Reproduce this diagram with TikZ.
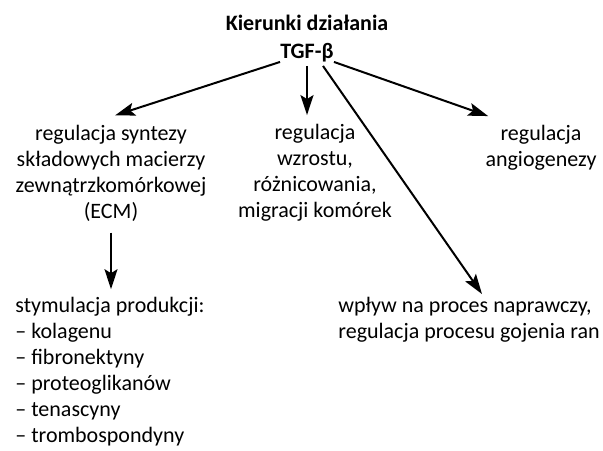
\documentclass[tikz,border=0pt]{standalone}
\usepackage{fontspec}
\setmainfont{Carlito}
\usetikzlibrary{arrows.meta, positioning, calc}

\begin{document}
\begin{tikzpicture}[x=0.5pt, y=-0.5pt,
  txt/.style={inner sep=0pt, font=\fontsize{11}{13}\selectfont},
  title/.style={inner sep=0pt, font=\fontsize{11}{14}\selectfont\bfseries},
  arrow/.style={-{Stealth[length=10pt, width=6.5pt, inset=2pt]}, line width=1pt}]

  \useasboundingbox (0,0) rectangle (603,450);

  \node[title, anchor=base] (head) at (307,30) {Kierunki działania};
  \node[title, anchor=base] (tgf)  at (307,58) {TGF-β};

  \node[txt, align=center] (ecm)    at (111,173) {regulacja syntezy\\składowych macierzy\\zewnątrzkomórkowej\\(ECM)};
  \node[txt, align=center] (growth) at (315,173) {regulacja\\wzrostu,\\różnicowania,\\migracji komórek};
  \node[txt, align=center] (angio)  at (541,148) {regulacja\\angiogenezy};
  \node[txt, align=left, anchor=west] (prod)   at (15,372)  {stymulacja produkcji:\\– kolagenu\\– fibronektyny\\– proteoglikanów\\– tenascyny\\– trombospondyny};
  \node[txt, align=left, anchor=west] (repair) at (338,320) {wpływ na proces naprawczy,\\regulacja procesu gojenia ran};

  \draw[arrow] (tgf.south west) -- ($(ecm.north)+(4,-9)$);
  \draw[arrow, shorten <=2pt] (tgf.south) -- ($(tgf.south |- growth.north)+(0,-9)$);
  \draw[arrow] ($(tgf.south)+(16,4)$) -- ($(repair.north)+(13,-3)$);
  \draw[arrow] (tgf.south east) -- ($(angio.north west)+(3,-9)$);
  \draw[arrow] ($(ecm.south)+(0,11)$) -- ($(ecm.south |- prod.north)+(0,-8)$);
\end{tikzpicture}
\end{document}
